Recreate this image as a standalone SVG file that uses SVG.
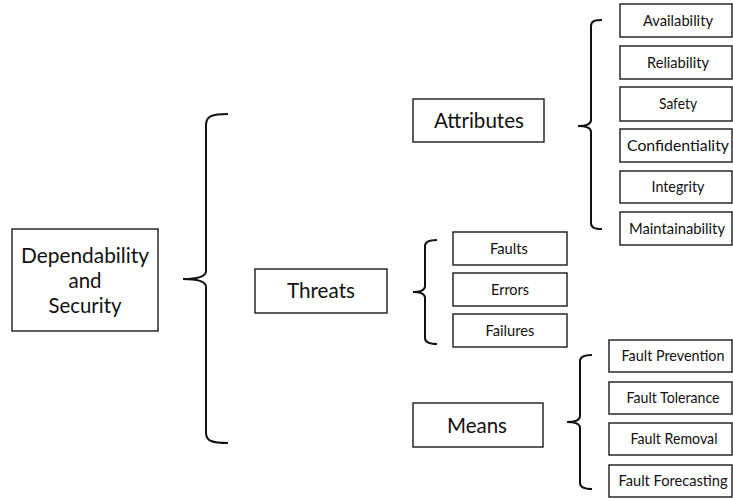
<svg xmlns="http://www.w3.org/2000/svg" width="733" height="498" viewBox="0 0 733 498">
<style>
.box{fill:#fff;stroke:#1a1a1a;stroke-width:1.4}
.brace{fill:none;stroke:#111;stroke-width:2}
text{font-family:Lato,"Open Sans","Liberation Sans",sans-serif;fill:#111;text-anchor:middle}
.big{font-size:22px}
.sm{font-size:15px}
</style>
<rect width="733" height="498" fill="#fff"/>
<g id="connectors">
<path class="brace" d="M228,114 C212,114 206,116 206,125 L206,271 C206,276 200,279 183,279 C200,279 206,282 206,287 L206,433 C206,441 212,443 228,443"/>
<path class="brace" d="M602,20 C595,20 591,21 591,26 L591,120 C591,124 587,126 578,126 C587,126 591,128 591,132 L591,223 C591,228 595,229 602,229"/>
<path class="brace" d="M437,240 C430,240 425,241 425,246 L425,286 C425,290 421,292 413,292 C421,292 425,294 425,298 L425,338 C425,343 430,344 437,344"/>
<path class="brace" d="M592,355 C585,355 580,356 580,361 L580,416 C580,420 576,422 567,422 C576,422 580,424 580,428 L580,483 C580,488 585,489 592,489"/>
</g>
<g id="dependability">
<rect class="box" x="12" y="229" width="146" height="102"/>
<text class="big" x="85" y="263" textLength="128" lengthAdjust="spacingAndGlyphs">Dependability</text>
<text class="big" x="85" y="288" textLength="33" lengthAdjust="spacingAndGlyphs">and</text>
<text class="big" x="85" y="313" textLength="73" lengthAdjust="spacingAndGlyphs">Security</text>
</g>
<g id="attributes">
<rect class="box" x="413" y="99" width="131" height="43"/>
<text class="big" x="479" y="128" textLength="90" lengthAdjust="spacingAndGlyphs">Attributes</text>
</g>
<g id="threats">
<rect class="box" x="255" y="269" width="132" height="44"/>
<text class="big" x="321" y="298" textLength="68" lengthAdjust="spacingAndGlyphs">Threats</text>
</g>
<g id="means">
<rect class="box" x="413" y="403" width="130" height="44"/>
<text class="big" x="477" y="433" textLength="60" lengthAdjust="spacingAndGlyphs">Means</text>
</g>
<g id="availability">
<rect class="box" x="620" y="4" width="112" height="33"/>
<text class="sm" x="678" y="26" textLength="70" lengthAdjust="spacingAndGlyphs">Availability</text>
</g>
<g id="reliability">
<rect class="box" x="620" y="46" width="112" height="33"/>
<text class="sm" x="678" y="68" textLength="62" lengthAdjust="spacingAndGlyphs">Reliability</text>
</g>
<g id="safety">
<rect class="box" x="620" y="87" width="112" height="34"/>
<text class="sm" x="678" y="109" textLength="38" lengthAdjust="spacingAndGlyphs">Safety</text>
</g>
<g id="confidentiality">
<rect class="box" x="620" y="129" width="112" height="33"/>
<text class="sm" x="678" y="151" textLength="102" lengthAdjust="spacingAndGlyphs">Confidentiality</text>
</g>
<g id="integrity">
<rect class="box" x="620" y="171" width="112" height="32"/>
<text class="sm" x="678" y="192" textLength="53" lengthAdjust="spacingAndGlyphs">Integrity</text>
</g>
<g id="maintainability">
<rect class="box" x="620" y="212" width="112" height="33"/>
<text class="sm" x="677" y="234" textLength="96" lengthAdjust="spacingAndGlyphs">Maintainability</text>
</g>
<g id="faults">
<rect class="box" x="453" y="232" width="114" height="33"/>
<text class="sm" x="509" y="254" textLength="38" lengthAdjust="spacingAndGlyphs">Faults</text>
</g>
<g id="errors">
<rect class="box" x="453" y="273" width="114" height="33"/>
<text class="sm" x="510" y="295" textLength="38" lengthAdjust="spacingAndGlyphs">Errors</text>
</g>
<g id="failures">
<rect class="box" x="453" y="314" width="114" height="33"/>
<text class="sm" x="510" y="336" textLength="49" lengthAdjust="spacingAndGlyphs">Failures</text>
</g>
<g id="fault-prevention">
<rect class="box" x="609" y="340" width="123" height="32"/>
<text class="sm" x="673" y="361" textLength="103" lengthAdjust="spacingAndGlyphs">Fault Prevention</text>
</g>
<g id="fault-tolerance">
<rect class="box" x="609" y="382" width="123" height="32"/>
<text class="sm" x="673" y="403" textLength="93" lengthAdjust="spacingAndGlyphs">Fault Tolerance</text>
</g>
<g id="fault-removal">
<rect class="box" x="609" y="423" width="123" height="32"/>
<text class="sm" x="674" y="444" textLength="87" lengthAdjust="spacingAndGlyphs">Fault Removal</text>
</g>
<g id="fault-forecasting">
<rect class="box" x="609" y="465" width="123" height="32"/>
<text class="sm" x="673" y="486" textLength="109" lengthAdjust="spacingAndGlyphs">Fault Forecasting</text>
</g>
</svg>
